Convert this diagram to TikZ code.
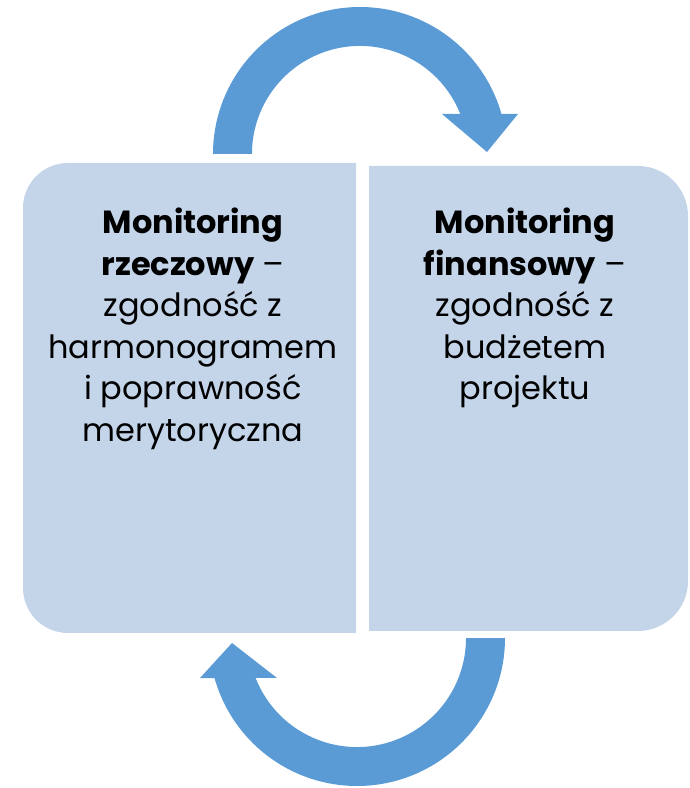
\documentclass[tikz,border=0pt]{standalone}
\usepackage{fontspec}
\setmainfont{Poppins}
\usepackage{xcolor}
\usepackage{tikz}
\usetikzlibrary{positioning,calc}

\definecolor{cyclearrow}{RGB}{91,155,213}
\definecolor{boxfill}{RGB}{196,213,234}

\begin{document}
\begin{tikzpicture}[x=1pt, y=1pt,
    cyclearrow/.style={fill=cyclearrow},
    panel/.style={fill=boxfill},
    paneltext/.style={align=center, inner sep=0pt, anchor=north,
        font=\fontsize{32}{41.5}\selectfont}]
    \useasboundingbox (0,0) rectangle (689,788);

    % Left panel
    \fill[panel] (356,625) -- (68,625) arc[start angle=90, end angle=180, radius=45]
        -- (23,200) arc[start angle=180, end angle=270, radius=45] -- (356,155) -- cycle;
    % Right panel
    \fill[panel] (369,622) -- (638,622) arc[start angle=90, end angle=0, radius=50]
        -- (688,207) arc[start angle=0, end angle=-90, radius=50] -- (369,157) -- cycle;

    % Top arrow
    \fill[cyclearrow] (213,634) arc[start angle=180, end angle=15.8, radius=147]
        -- (518,674) -- (487,636) -- (442,674) -- (460.3,674)
        arc[start angle=21.7, end angle=180, radius=108] -- cycle;
    % Bottom arrow
    \fill[cyclearrow] (505,150) arc[start angle=0, end angle=-164.3, radius=148]
        -- (200,110) -- (232,145) -- (277,110) -- (255.6,110)
        arc[start angle=-158.5, end angle=0, radius=109] -- cycle;

    % Texts
    \node[paneltext] (rzeczowy) at (193,580)
        {\textbf{Monitoring}\\\textbf{rzeczowy} –\\zgodność z\\harmonogramem\\i poprawność\\merytoryczna};
    \node[paneltext] (finansowy) at (525,580)
        {\textbf{Monitoring}\\\textbf{finansowy} –\\zgodność z\\budżetem\\projektu};

\end{tikzpicture}
\end{document}
